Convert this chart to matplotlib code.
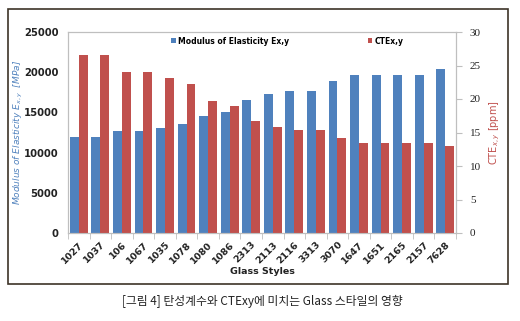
import numpy as np
import matplotlib
matplotlib.use("Agg")
import matplotlib.pyplot as plt
from matplotlib.patches import Rectangle

# Data
styles = ['1027', '1037', '106', '1067', '1035', '1078', '1080', '1086', '2313',
          '2113', '2116', '3313', '3070', '1647', '1651', '2165', '2157', '7628']
modulus = [12000, 12000, 12700, 12700, 13100, 13500, 14600, 15000, 16500,
           17300, 17700, 17700, 18900, 19600, 19600, 19600, 19600, 20400]
cte = [26.6, 26.6, 24.1, 24.1, 23.1, 22.2, 19.7, 19.0, 16.7,
       15.8, 15.3, 15.3, 14.2, 13.4, 13.4, 13.4, 13.4, 13.0]

BLUE = '#4F81BD'
RED = '#C0504D'
GRID = '#BFBFBF'

fig = plt.figure(figsize=(5.2, 3.21), dpi=100)

# outer frame
fig.patches.append(Rectangle((8 / 520, 1 - 284 / 321), 500 / 520, 275 / 321,
                             transform=fig.transFigure, fill=False,
                             edgecolor='#3d3428', linewidth=1.2))

ax = fig.add_axes([68 / 520, 1 - 233 / 321, 388 / 520, 201 / 321])
ax2 = ax.twinx()

x = np.arange(len(styles))
w = 0.41
b1 = ax.bar(x - w / 2, modulus, width=w, color=BLUE, label='Modulus of Elasticity Ex,y')
b2 = ax2.bar(x + w / 2, cte, width=w, color=RED, label='CTEx,y')

ax.set_xlim(-0.5, len(styles) - 0.5)
ax.set_ylim(0, 25000)
ax2.set_ylim(0, 30)
ax.set_yticks(np.arange(0, 25001, 5000))
ax2.set_yticks(np.arange(0, 31, 5))

for a in (ax, ax2):
    for s in a.spines.values():
        s.set_color(GRID)
        s.set_linewidth(0.8)

ax.set_xticks(x)
ax.set_xticklabels(styles, rotation=45, ha='right', rotation_mode='anchor',
                   fontsize=6.8, fontweight='bold', color='#222222')
ax.set_xticks(np.arange(-0.5, len(styles), 1), minor=True)
ax.tick_params(axis='x', which='major', length=0, pad=5)
ax.tick_params(axis='x', which='minor', length=4, color=GRID)
ax.tick_params(axis='y', length=0, pad=7, labelsize=7.2, labelcolor='#222222')
for t in ax.get_yticklabels():
    t.set_fontweight('bold')

ax2.tick_params(axis='y', length=4, color=GRID, pad=6, labelsize=8, labelcolor='#222222')
for t in ax2.get_yticklabels():
    t.set_fontfamily('Liberation Serif')

ax.set_xlabel('Glass Styles', fontsize=6.8, fontweight='bold', labelpad=1, color='#222222')
ax.set_ylabel('Modulus of Elasticity E$_{x,y}$  [MPa]', fontsize=6.5, color=BLUE,
              style='italic', labelpad=-1)
ax2.set_ylabel('CTE$_{x,y}$ [ppm]', fontsize=7, color=RED, labelpad=5)

fig.legend(handles=[b1, b2], loc='center left', bbox_to_anchor=(168 / 520, 1 - 41 / 321),
           ncol=2, frameon=False, handlelength=0.6, handleheight=0.6,
           handletextpad=0.3, columnspacing=10.3, borderaxespad=0,
           prop={'family': 'DejaVu Sans', 'weight': 'bold', 'size': 5.5})

fig.text(0.505, 1 - 301 / 321, '[그림 4] 탄성계수와 CTExy에 미치는 Glass 스타일의 영향',
         ha='center', va='center', fontsize=8.5, color='#222222',
         family=['Noto Sans CJK KR', 'DejaVu Sans'])

fig.savefig('out.png', dpi=100)
